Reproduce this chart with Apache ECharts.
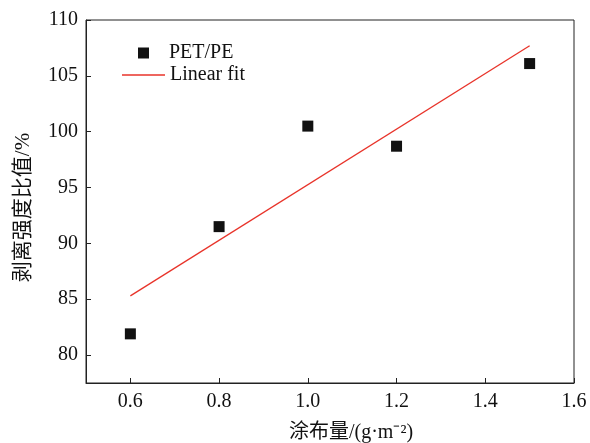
<!DOCTYPE html>
<html>
<head>
<meta charset="UTF-8">
<title>剥离强度比值</title>
<script src="https://cdn.jsdelivr.net/npm/echarts@6/dist/echarts.min.js"></script>
<style>
  html, body { margin: 0; padding: 0; background: #fff; }
  #container { width: 590px; height: 443px; }
</style>
</head>
<body>
<div id="container"></div>
<script type="text/javascript">
// 数据
var coatAmount = [0.6, 0.8, 1.0, 1.2, 1.5];
var peelRatio = [81.9, 91.5, 100.5, 98.7, 106.1];
var fitX = [0.6, 1.5];
var fitY = [85.3, 107.7];
var xTicks = [0.6, 0.8, 1.0, 1.2, 1.4, 1.6];
var yTicks = [80, 85, 90, 95, 100, 105, 110];

var FONT = "'Liberation Serif', 'Noto Sans CJK SC', serif";
var AXIS_COLOR = '#222';
var TEXT_COLOR = '#111';
var FIT_COLOR = '#e8332a';

var myChart = echarts.init(document.getElementById('container'));

var scatterData = coatAmount.map(function (x, i) { return [x, peelRatio[i]]; });
var fitData = fitX.map(function (x, i) { return [x, fitY[i]]; });

var legendText = { fontFamily: FONT, fontSize: 20, color: TEXT_COLOR };

var option = {
  animation: false,
  textStyle: { fontFamily: FONT },
  grid: {
    left: 86, top: 20, right: 16, bottom: 60,
    outerBoundsMode: 'none',
    containLabel: false,
    show: true, borderColor: AXIS_COLOR, borderWidth: 1
  },
  legend: [
    {
      left: 138,
      top: 43,
      padding: 0,
      itemWidth: 11,
      itemHeight: 11,
      icon: 'rect',
      textStyle: Object.assign({ padding: [0, 0, 0, 15] }, legendText),
      data: ['PET/PE']
    },
    {
      left: 122,
      top: 65,
      padding: 0,
      itemWidth: 43,
      itemHeight: 1.5,
      icon: 'rect',
      textStyle: legendText,
      data: ['Linear fit']
    }
  ],
  xAxis: {
    type: 'value',
    min: 0.5,
    max: 1.6,
    name: '涂布量/(g·m⁻²)',
    nameLocation: 'middle',
    nameGap: 40,
    nameTextStyle: { fontFamily: FONT, fontSize: 20, color: TEXT_COLOR, padding: [0, 0, 0, 42] },
    splitLine: { show: false },
    axisLine: { lineStyle: { color: AXIS_COLOR, width: 1 } },
    axisTick: { inside: true, length: 5, customValues: xTicks, lineStyle: { color: AXIS_COLOR } },
    axisLabel: {
      customValues: xTicks,
      margin: 9,
      fontSize: 20,
      color: TEXT_COLOR,
      fontFamily: FONT,
      formatter: function (v) { return v.toFixed(1); }
    }
  },
  yAxis: {
    type: 'value',
    min: 77.5,
    max: 110,
    name: '剥离强度比值/%',
    nameLocation: 'middle',
    nameGap: 52,
    nameTextStyle: { fontFamily: FONT, fontSize: 21, color: TEXT_COLOR, padding: [0, 12, 0, 0] },
    splitLine: { show: false },
    axisLine: { show: true, lineStyle: { color: AXIS_COLOR, width: 1 } },
    axisTick: { show: true, inside: true, length: 5, customValues: yTicks, lineStyle: { color: AXIS_COLOR } },
    axisLabel: {
      customValues: yTicks,
      margin: 8,
      fontSize: 20,
      color: TEXT_COLOR,
      fontFamily: FONT
    }
  },
  series: [
    {
      name: 'PET/PE',
      type: 'scatter',
      symbol: 'rect',
      symbolSize: 11,
      itemStyle: { color: '#111', opacity: 1 },
      data: scatterData
    },
    {
      name: 'Linear fit',
      type: 'line',
      showSymbol: false,
      symbol: 'none',
      lineStyle: { color: FIT_COLOR, width: 1.3 },
      itemStyle: { color: FIT_COLOR },
      data: fitData
    }
  ]
};

myChart.setOption(option);
</script>
</body>
</html>
